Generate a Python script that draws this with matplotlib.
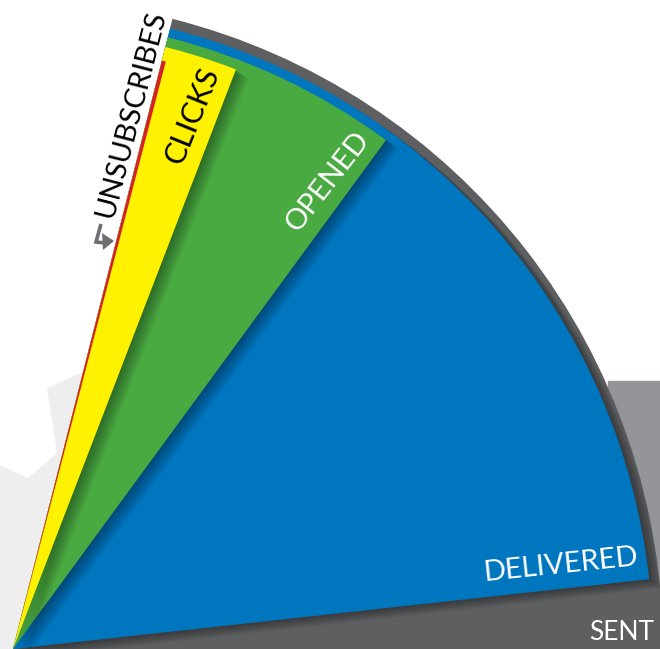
import matplotlib
matplotlib.use("Agg")
import matplotlib.pyplot as plt
from matplotlib.patches import Wedge, Polygon, Rectangle
from matplotlib import transforms
import numpy as np

# ---- data (percent of emails sent) ----
stages = ["SENT", "DELIVERED", "OPENED", "CLICKS", "UNSUBSCRIBES"]
pct_of_sent = [100.0, 91.5, 29.0, 9.0, 0.5]

# ---- style ----
colors = ["#5e5f61", "#0076bf", "#4aaa42", "#fff200", "#d2232a"]
radii = [650, 640, 631, 621, 607]          # pixel units
label_colors = ["white", "white", "white", "black", "black"]
label_pos = [(622, 632), (561, 565), (328, 181), (192, 116), (131, 114)]  # pixel coords
label_rot = [0, 6, 52, 68, 75.6]
label_size = [19, 21, 21, 22, 21]

W, H = 660, 649
origin = (13, 0)          # bottom-left vertex of the fan (y up)
left_angle = 75.8         # shared left edge of all wedges
full_span = 76.0          # angular span of 100 %

fig = plt.figure(figsize=(W / 100, H / 100), dpi=100)
ax = fig.add_axes([0, 0, 1, 1])
ax.set_xlim(0, W)
ax.set_ylim(0, H)
ax.set_aspect("auto")
ax.axis("off")

def py(y):
    return H - y

# background decorations
ax.add_patch(Rectangle((608, 0), W - 608, py(381), color="#939598", zorder=0))
bg = [(0, py(465)), (28, py(478)), (57, py(453)), (47, py(388)), (83, py(372)),
      origin, (0, 0)]
ax.add_patch(Polygon(bg, closed=True, color="#eeeeee", zorder=0, lw=0))

patches = []
for i, (name, p) in enumerate(zip(stages, pct_of_sent)):
    theta1 = left_angle - full_span * p / 100.0
    w = Wedge(origin, radii[i], theta1, left_angle, facecolor=colors[i],
              edgecolor="none", zorder=2 + 2 * i)
    # soft shadow clipped to the parent wedge
    if 0 < i < 4:
        parent = patches[-1]
        for k in range(1, 11):
            sh = Wedge(origin, radii[i], theta1, left_angle, facecolor="black",
                       edgecolor="none", alpha=0.04, zorder=1 + 2 * i)
            off = transforms.Affine2D().translate(k * 1.3, -k * 0.9)
            sh.set_transform(off + ax.transData)
            ax.add_patch(sh)
            sh.set_clip_path(parent)
    ax.add_patch(w)
    patches.append(w)

for i, name in enumerate(stages):
    x, y = label_pos[i]
    ax.text(x, py(y), name, color=label_colors[i], rotation=label_rot[i],
            rotation_mode="anchor", ha="center", va="center",
            fontsize=label_size[i], family=["Lato", "DejaVu Sans"], zorder=20)

# small hooked arrow pointing at the unsubscribes sliver
ax.plot([101, 96, 105], [py(224), py(242), py(243)], color="#6d6e71", lw=2.6,
        solid_capstyle="butt", solid_joinstyle="miter", zorder=20)
ax.add_patch(Polygon([(102, py(233)), (114, py(241)), (103, py(250))],
                     closed=True, color="#6d6e71", lw=0, zorder=20))

fig.savefig("out.png", dpi=100)
